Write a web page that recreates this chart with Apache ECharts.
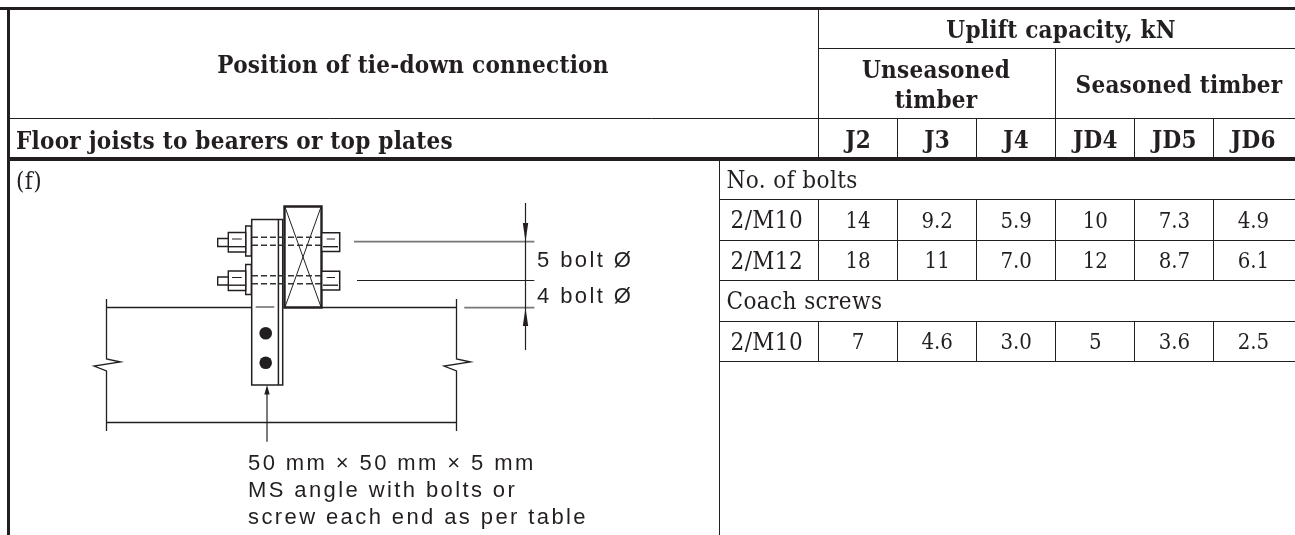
<!DOCTYPE html>
<html><head><meta charset="utf-8">
<style>html,body{margin:0;padding:0;background:#fff}#c{width:1295px;height:535px}</style>
<script src="https://cdn.jsdelivr.net/npm/echarts@6/dist/echarts.min.js"></script>
</head><body><div id="c"></div>
<script>
// ---- table content ----
const columns = ['J2','J3','J4','JD4','JD5','JD6'];
const rowLabels = ['No. of bolts','2/M10','2/M12','Coach screws','2/M10'];
const sectionRows = ['No. of bolts','Coach screws'];
const m10Bolts  = ['14','9.2','5.9','10','7.3','4.9'];
const m12Bolts  = ['18','11','7.0','12','8.7','6.1'];
const m10Screws = ['7','4.6','3.0','5','3.6','2.5'];
const tableTitle = 'Position of tie-down connection';
const rowTitle = 'Floor joists to bearers or top plates';
const capacityTitle = 'Uplift capacity, kN';
const unseasonedTitle = ['Unseasoned','timber'];
const seasonedTitle = 'Seasoned timber';
const itemLabel = '(f)';
const dimLabels = ['5 bolt Ø','4 bolt Ø'];
const noteLines = ['50 mm × 50 mm × 5 mm','MS angle with bolts or','screw each end as per table'];

// tracking of the printed typefaces (canvas letter spacing, by font in use)
const origFill=CanvasRenderingContext2D.prototype.fillText;
CanvasRenderingContext2D.prototype.fillText=function(){
  const f=this.font; let k=0;
  if(f.includes('Liberation Sans')) k=2.4;
  else if(f.includes('Condensed')) k=f.includes('bold')?0.25:(f.includes('24px')?0.4:0);
  this.letterSpacing=k+'px';
  const r=origFill.apply(this,arguments);
  this.letterSpacing='0px';
  return r;
};

const INK='#231f20', SERIF="'DejaVu Serif Condensed','DejaVu Serif',serif", SANS="'Liberation Sans',Arial,sans-serif";
const cells=[];
[[1,m10Bolts],[2,m12Bolts],[4,m10Screws]].forEach(([r,vals])=>vals.forEach((v,c)=>cells.push([c,r,v])));

const g=[];
function line(x1,y1,x2,y2,w,col){g.push({type:'line',silent:true,shape:{x1,y1,x2,y2},style:{stroke:col||INK,lineWidth:w||1}});}
function dash(x1,y,x2,w){g.push({type:'line',silent:true,shape:{x1,y1:y,x2,y2:y},style:{stroke:'#333',lineWidth:w||1.6,lineDash:[6,3]}});}
function rect(x,y,w,h,lw){g.push({type:'rect',silent:true,shape:{x,y,width:w,height:h},style:{fill:'#fff',stroke:INK,lineWidth:lw||1.2}});}
function poly(pts,fill,lw){g.push({type:fill?'polygon':'polyline',silent:true,shape:{points:pts},style:fill?{fill:INK,stroke:null}:{fill:null,stroke:INK,lineWidth:lw||1}});}
function text(x,y,s,font,align){g.push({type:'text',silent:true,x,y,style:{text:s,font,fill:INK,align:align||'left',verticalAlign:'middle'}});}

// table rules
line(0,8.5,1295,8.5,3);
line(8.5,8,8.5,535,3);
line(818.5,8,818.5,159);
line(818.5,48.5,1295,48.5);
line(1055.5,48,1055.5,159);
line(8,118.5,1295,118.5);
[897.5,976.5,1134.5,1213.5].forEach(x=>line(x,118,x,159));
line(8,159,1295,159,4);
line(719.5,159,719.5,535);
[199.5,240.5,280.5,321.5,361.5].forEach(y=>line(719,y,1295,y));
[818.5,897.5,976.5,1055.5,1134.5,1213.5].forEach(x=>{line(x,199,x,280);line(x,321,x,361);});

// header text
const BH="bold 24px "+SERIF, RH="24px "+SERIF;
text(413,67,tableTitle,BH,'center');
text(16,142.5,rowTitle,BH);
text(1061,32,capacityTitle,BH,'center');
text(936,72,unseasonedTitle[0],BH,'center');
text(936,102,unseasonedTitle[1],BH,'center');
text(1179,87,seasonedTitle,BH,'center');
text(16,183,itemLabel,RH);

// drawing: joist
line(106.5,307.5,252,307.5,1.5); line(321,307.5,456.5,307.5,1.5);
line(106.5,422.5,456.5,422.5,1.5);
poly([[106.5,299],[106.5,359],[120.5,362],[94,366],[106.5,371],[106.5,431]],false,1.3);
poly([[456.5,299],[456.5,359],[470.5,362],[444,366],[456.5,371],[456.5,431]],false,1.3);
// angle
rect(251.7,219.5,31,165.5,1.5);
line(278.4,219.5,278.4,385,1.5);
line(255.7,307,274.3,307,1);
g.push({type:'circle',silent:true,shape:{cx:265.7,cy:333.3,r:6.3},style:{fill:INK}});
g.push({type:'circle',silent:true,shape:{cx:265.7,cy:362.7,r:6.3},style:{fill:INK}});
// timber
rect(284.5,206.5,37,101,2.4);
line(285,207,321,307); line(321,207,285,307);
// bolts
[0,38.5].forEach(d=>{
  rect(245.7,226+d,5.6,30,1.4);
  rect(228.3,232.5+d,17.4,19.5,1.4);
  rect(217.7,238.5+d,10.6,8,1.4);
  line(232,239+d,241.7,239+d,1); line(228.3,246.7+d,245.7,246.7+d,1.4);
  dash(252,237.3+d,321,1.5); dash(252,245.3+d,321,1.5);
  rect(321.7,232.7+d,18,18.7,1.5);
  line(326.7,239+d,335,239+d,1); line(323,246.7+d,338,246.7+d,1.4);
});
// leaders
line(354,241.7,534.3,241.7,1.7,'#777'); line(357,280.5,534.3,280.5,1.2);
line(464.3,307.7,534.3,307.7,1.7,'#777');
line(525.5,203,525.5,350,1.2);
poly([[525.5,241.7],[522.8,223],[528.2,223]],true);
poly([[525.5,307.7],[522.8,326],[528.2,326]],true);
line(267,394,267,441.7,1.2);
poly([[267,385],[264.3,394.5],[269.7,394.5]],true);
// labels
const D="22px "+SANS;
text(537,261,dimLabels[0],D); text(537,297,dimLabels[1],D);
noteLines.forEach((s,i)=>text(248,[463.5,491,518][i],s,D));

const chart=echarts.init(document.getElementById('c'),null,{renderer:'canvas'});
chart.setOption({
  animation:false,backgroundColor:'#fff',
  grid:{left:818.5,top:161.5,width:474.5,height:202,containLabel:false},
  xAxis:{type:'category',position:'top',data:columns,axisLine:{show:false},axisTick:{show:false},
    axisLabel:{margin:8,color:INK,fontFamily:SERIF,fontWeight:'bold',fontSize:24,interval:0}},
  yAxis:{type:'category',inverse:true,data:rowLabels,axisLine:{show:false},axisTick:{show:false},
    axisLabel:{interval:0,margin:92,align:'left',color:INK,fontFamily:SERIF,fontSize:24,
      formatter:v=>sectionRows.includes(v)?v:'{r|'+v+'}',rich:{r:{padding:[0,0,0,4],fontFamily:SERIF,fontSize:24,color:INK}}}},
  series:[{type:'scatter',symbolSize:0,data:cells,silent:true,itemStyle:{opacity:1},
    label:{show:true,position:'inside',formatter:p=>p.value[2],color:INK,fontFamily:SERIF,fontSize:22,opacity:1}}],
  graphic:g
});
</script></body></html>
